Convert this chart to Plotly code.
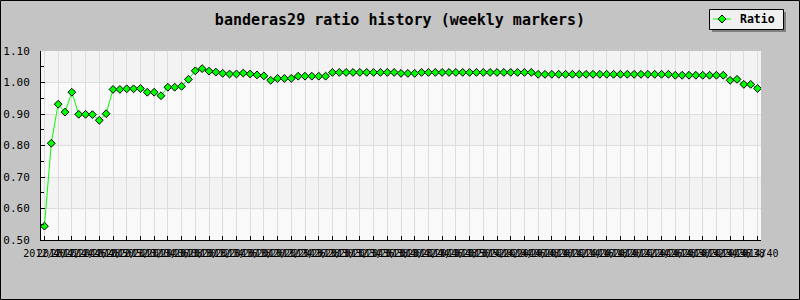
import plotly.graph_objects as go

# ---------------- data ----------------
title_text = "banderas29 ratio history (weekly markers)"
series_name = "Ratio"

start_year, start_week, weeks_per_year, n_points = 2012, 40, 52, 105
week_labels = []
_y, _w = start_year, start_week
for _ in range(n_points):
    week_labels.append(f"{_y}/{_w:02d}")
    _w += 1
    if _w > weeks_per_year:
        _w = 1
        _y += 1

ratio = [
    0.544, 0.807, 0.931, 0.906, 0.969, 0.899, 0.899, 0.898, 0.880, 0.901,
    0.978, 0.978, 0.980, 0.980, 0.981, 0.969, 0.969, 0.958, 0.985, 0.985,
    0.988, 1.010, 1.037, 1.044, 1.036, 1.033, 1.029, 1.027, 1.027, 1.030,
    1.027, 1.024, 1.021, 1.007, 1.013, 1.013, 1.013, 1.020, 1.020, 1.020,
    1.020, 1.020,
    1.032, 1.032, 1.032, 1.032, 1.032, 1.032, 1.032, 1.032, 1.032, 1.032,
    1.029, 1.029, 1.029,
    1.032, 1.032, 1.032, 1.032, 1.032, 1.032, 1.032, 1.032, 1.032, 1.032,
    1.032, 1.032, 1.032, 1.032, 1.032, 1.032, 1.032,
    1.026, 1.026, 1.026, 1.026, 1.026, 1.026, 1.026, 1.026, 1.026, 1.026,
    1.026, 1.026, 1.026, 1.026, 1.026, 1.026, 1.026, 1.026, 1.026, 1.026,
    1.023, 1.023, 1.023, 1.023, 1.023, 1.023, 1.023, 1.023,
    1.007, 1.010, 0.994, 0.994, 0.981,
]
y_ticks = [0.5, 0.6, 0.7, 0.8, 0.9, 1.0, 1.1]

LINE_GREEN = "#00ff00"
MONO = "DejaVu Sans Mono"

# ---------------- layout helpers ----------------
W, H = 800, 300
L, R, T, B = 41, 39, 51, 60
PW, PH = W - L - R, H - T - B

def px(x):
    return (x - L) / PW

def py(y):
    return (H - B - y) / PH

xs = list(range(len(ratio)))
tick_idx = xs[::2]

fig = go.Figure()
fig.add_trace(go.Scatter(
    x=xs, y=ratio, mode="lines+markers", name=series_name,
    line=dict(color=LINE_GREEN, width=1),
    marker=dict(symbol="diamond", size=6, color=LINE_GREEN,
                line=dict(color="#000000", width=1)),
    showlegend=False,
))

shapes = []
for k in range(len(y_ticks) - 1):
    shapes.append(dict(
        type="rect", xref="paper", yref="y", x0=0, x1=1,
        y0=y_ticks[k], y1=y_ticks[k + 1], layer="below",
        fillcolor="#f3f3f3" if k % 2 == 1 else "#f9f9f9", line=dict(width=0),
    ))
# image border
shapes.append(dict(type="rect", xref="paper", yref="paper",
                   x0=px(0.5), x1=px(799.5), y0=py(0.5), y1=py(299.5),
                   line=dict(color="#000000", width=1), layer="above"))
# legend: shadow, box, sample line and marker
lg_x0, lg_x1, lg_y0, lg_y1 = 709, 783, 9, 29
lg_cy = (lg_y0 + lg_y1) / 2
shapes.append(dict(type="rect", xref="paper", yref="paper",
                   x0=px(lg_x0 + 3), x1=px(lg_x1 + 3), y0=py(lg_y0 + 3), y1=py(lg_y1 + 3),
                   fillcolor="#808080", line=dict(width=0), layer="above"))
shapes.append(dict(type="rect", xref="paper", yref="paper",
                   x0=px(lg_x0 + 0.5), x1=px(lg_x1 + 0.5), y0=py(lg_y0 + 0.5), y1=py(lg_y1 + 0.5),
                   fillcolor="#f0f0f0", line=dict(color="#000000", width=1), layer="above"))
shapes.append(dict(type="line", xref="paper", yref="paper",
                   x0=px(lg_x0 + 4), x1=px(lg_x0 + 22), y0=py(lg_cy), y1=py(lg_cy),
                   line=dict(color=LINE_GREEN, width=1), layer="above"))
mx = lg_x0 + 13
shapes.append(dict(type="path", xref="paper", yref="paper",
                   path=(f"M {px(mx - 4)} {py(lg_cy)} L {px(mx)} {py(lg_cy - 4)} "
                         f"L {px(mx + 4)} {py(lg_cy)} L {px(mx)} {py(lg_cy + 4)} Z"),
                   fillcolor=LINE_GREEN, line=dict(color="#000000", width=1), layer="above"))

annotations = [dict(
    text=series_name, xref="paper", yref="paper", x=px(lg_x0 + 29), y=py(lg_cy),
    xanchor="left", yanchor="middle", showarrow=False,
    font=dict(family=MONO, size=11.5, color="#000000", weight="bold"),
)]

fig.update_layout(
    width=W, height=H,
    margin=dict(l=L, r=R, t=T, b=B, pad=0, autoexpand=False),
    paper_bgcolor="#c4c4c4", plot_bgcolor="#f9f9f9",
    title=dict(text=title_text, x=0.5, xref="container", xanchor="center",
               y=1 - 19.5 / H, yref="container", yanchor="middle",
               font=dict(family=MONO, size=15, color="#000000", weight="bold")),
    showlegend=False,
    shapes=shapes,
    annotations=annotations,
)

fig.update_xaxes(
    automargin=False,
    range=[-0.5, len(ratio) - 0.5], tickmode="array",
    tickvals=tick_idx, ticktext=[week_labels[i] for i in tick_idx],
    tickangle=0, ticks="inside", ticklen=4, tickcolor="#000000",
    showline=True, linecolor="#000000", linewidth=1, mirror=False,
    showgrid=True, gridcolor="#dddddd", gridwidth=1, zeroline=False,
    tickfont=dict(family=MONO, size=10, color="#000000"),
    ticklabelstandoff=4,
)
fig.update_yaxes(
    automargin=False,
    range=[0.5, 1.1], tickmode="array", tickvals=y_ticks,
    ticktext=[f"{v:.2f}" for v in y_ticks],
    ticks="inside", ticklen=4, tickcolor="#000000",
    minor=dict(dtick=0.05, ticks="inside", ticklen=3, tickcolor="#000000",
               showgrid=False),
    showline=True, linecolor="#000000", linewidth=1, mirror=False,
    showgrid=True, gridcolor="#dddddd", gridwidth=1, zeroline=False,
    tickfont=dict(family=MONO, size=11, color="#000000"),
    ticklabelstandoff=8,
)

fig.write_html("out.html")
